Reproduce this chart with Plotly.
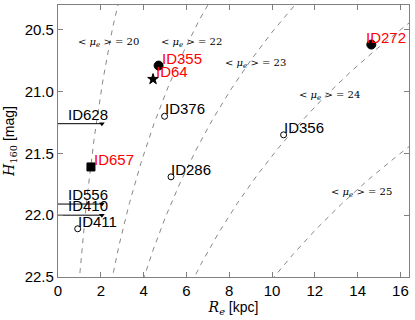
import numpy as np
import plotly.graph_objects as go

# measured galaxies: size R_e [kpc] and magnitude H160
ids = ['ID272', 'ID355', 'ID64', 'ID657', 'ID376', 'ID286', 'ID356', 'ID411']
re_kpc = [14.64, 4.70, 4.44, 1.54, 4.98, 5.28, 10.54, 0.92]
h160 = [20.62, 20.79, 20.90, 21.61, 21.20, 21.69, 21.35, 22.11]
symbols = ['circle', 'circle', 'star', 'square', 'circle-open', 'circle-open', 'circle-open', 'circle-open']
label_colors = ['red', 'red', 'red', 'red', 'black', 'black', 'black', 'black']

# unresolved sources: upper limits on R_e
lim_ids = ['ID628', 'ID556', 'ID410']
lim_re = [2.05, 2.05, 2.05]
lim_h160 = [21.26, 21.91, 22.00]

# lines of constant mean surface brightness
mu_levels = [20, 22, 23, 24, 25]
mu_zp = 2.52
mu_label_x = [2.35, 6.23, 9.22, 12.68, 14.17]
mu_label_y = [20.605, 20.605, 20.775, 21.03, 21.82]

fig = go.Figure()

r = np.linspace(0.3, 16.5, 400)
for mu in mu_levels:
    h = mu + mu_zp - 5 * np.log10(r)
    fig.add_trace(go.Scatter(x=r, y=h, mode='lines',
                             line=dict(color='#888888', width=1, dash='5px,5px'),
                             hoverinfo='skip'))

for mu, lx, ly in zip(mu_levels, mu_label_x, mu_label_y):
    fig.add_annotation(x=lx, y=ly, showarrow=False,
                       text=f'&lt; <i>μ<sub>e</sub></i> &gt; = {mu}',
                       font=dict(family='DejaVu Serif', size=10, color='black'))

# upper limit lines from the axis
for x, y in zip(lim_re, lim_h160):
    fig.add_trace(go.Scatter(x=[0, x], y=[y, y], mode='lines',
                             line=dict(color='black', width=1), hoverinfo='skip'))
fig.add_trace(go.Scatter(x=lim_re, y=lim_h160, mode='markers',
                         marker=dict(symbol='triangle-down', size=5, color='black')))

for sym in set(symbols):
    xs = [x for x, s in zip(re_kpc, symbols) if s == sym]
    ys = [y for y, s in zip(h160, symbols) if s == sym]
    size = {'circle': 9, 'star': 8, 'square': 8, 'circle-open': 6}[sym]
    fig.add_trace(go.Scatter(x=xs, y=ys, mode='markers',
                             marker=dict(symbol=sym, size=size, color='black',
                                         line=dict(width=1, color='black'))))

for name, x, y, c, sym in zip(ids, re_kpc, h160, label_colors, symbols):
    dx = -7 if name == 'ID272' else (-2 if sym == 'circle-open' else 1)
    fig.add_annotation(x=x, y=y, text=name, showarrow=False,
                       xanchor='left', yanchor='bottom',
                       xshift=dx, yshift=-3,
                       font=dict(family='Liberation Sans', size=15, color=c))
for name, x, y in zip(lim_ids, lim_re, lim_h160):
    fig.add_annotation(x=x, y=y, text=name, showarrow=False,
                       xanchor='left', yanchor='bottom', xshift=-36, yshift=-1,
                       font=dict(family='Liberation Sans', size=15, color='black'))

axis_style = dict(showline=True, linecolor='#808080', linewidth=1.2, mirror='ticks',
                  ticks='inside', ticklen=5, tickcolor='#808080', showgrid=False,
                  zeroline=False, tickfont=dict(family='Liberation Sans', size=15, color='black'))

fig.update_layout(
    width=415, height=320, showlegend=False,
    plot_bgcolor='white', paper_bgcolor='white',
    margin=dict(l=58, r=6, t=5, b=43),
    xaxis=dict(range=[0, 16.4], tickvals=list(range(0, 17, 2)),
               title=dict(text='<span style="font-family:DejaVu Serif"><i>R<sub>e</sub></i></span> [kpc]',
                          font=dict(family='Liberation Sans', size=14, color='black'), standoff=4),
               **axis_style),
    yaxis=dict(range=[22.5, 20.3], tickvals=[20.5, 21.0, 21.5, 22.0, 22.5], tickformat='.1f',
               title=dict(text='<span style="font-family:DejaVu Serif"><i>H</i><sub>160</sub></span> [mag]',
                          font=dict(family='Liberation Sans', size=14, color='black'), standoff=6),
               **axis_style),
)

fig.write_html("out.html", config={'displayModeBar': False},
               post_script="document.body.style.margin='0';")
